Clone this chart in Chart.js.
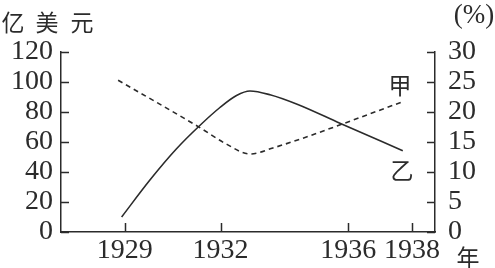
<!DOCTYPE html>
<html>
<head>
<meta charset="utf-8">
<script src="https://cdn.jsdelivr.net/npm/chart.js@4.4.1/dist/chart.umd.min.js"></script>
<style>
  html, body { margin: 0; padding: 0; background: #fff; }
  #wrap { width: 495px; height: 268px; }
</style>
</head>
<body>
<div id="wrap"><canvas id="chart"></canvas></div>
<script>
// 乙 (solid, 亿美元, left axis)
const yiYears = [1928.9, 1929.78, 1930.62, 1931.35, 1931.98, 1932.5, 1932.92, 1933.55, 1934.42, 1935.74, 1937.71];
const yiValues = [10, 34.5, 55.5, 71, 83, 91, 94, 91.5, 85, 72.5, 54.2];

// 甲 (dashed, %, right axis)
const jiaYears = [1928.79, 1931.35, 1932.2, 1932.92, 1933.64, 1937.71];
const jiaValues = [25.3, 17.4, 14.6, 13.0, 14.0, 21.7];

const yearTicks = [1929, 1932, 1936, 1938];
const leftTicks = [0, 20, 40, 60, 80, 100, 120];
const rightTicks = [0, 5, 10, 15, 20, 25, 30];

const ink = '#2b2b2b';
const serif = '"Liberation Serif", "DejaVu Serif", serif';
const cjk = '"Noto Sans CJK SC", sans-serif';

const extras = {
  id: 'extras',
  afterDraw(chart) {
    const { ctx, chartArea, scales } = chart;
    ctx.save();
    ctx.strokeStyle = ink;
    ctx.lineWidth = 1.5;
    ctx.beginPath();
    leftTicks.forEach(v => {
      const py = Math.round(scales.y.getPixelForValue(v)) + 0.5;
      ctx.moveTo(chartArea.left, py); ctx.lineTo(chartArea.left + 8, py);
    });
    rightTicks.forEach(v => {
      const py = Math.round(scales.y1.getPixelForValue(v)) + 0.5;
      ctx.moveTo(chartArea.right, py); ctx.lineTo(chartArea.right - 8, py);
    });
    yearTicks.forEach(v => {
      const px = Math.round(scales.x.getPixelForValue(v)) + 0.5;
      ctx.moveTo(px, chartArea.bottom); ctx.lineTo(px, chartArea.bottom - 9);
    });
    ctx.stroke();

    ctx.fillStyle = ink;
    ctx.textAlign = 'center';
    ctx.textBaseline = 'middle';
    ctx.font = '23px ' + cjk;
    [['亿', 13], ['美', 47], ['元', 82]].forEach(([c, x]) => ctx.fillText(c, x, 22));
    ctx.fillText('年', 468, 257);
    ctx.fillText('甲', 400, 85);
    ctx.fillText('乙', 402, 170);
    ctx.font = '27px ' + serif;
    ctx.fillText('(%)', 474, 16);
    ctx.restore();
  }
};

const fixSize = (w, h) => s => {
  if (w !== null) s.width = w;
  if (h !== null) s.height = h;
  s.paddingTop = 0; s.paddingBottom = 0; s.paddingLeft = 0; s.paddingRight = 0;
};

new Chart(document.getElementById('chart'), {
  type: 'line',
  data: {
    datasets: [
      {
        label: '乙',
        data: yiYears.map((x, i) => ({ x, y: yiValues[i] })),
        yAxisID: 'y',
        borderColor: ink,
        borderWidth: 1.6,
        pointRadius: 0,
        cubicInterpolationMode: 'monotone',
        fill: false
      },
      {
        label: '甲',
        data: jiaYears.map((x, i) => ({ x, y: jiaValues[i] })),
        yAxisID: 'y1',
        borderColor: ink,
        borderWidth: 1.6,
        borderDash: [5, 4],
        pointRadius: 0,
        cubicInterpolationMode: 'monotone',
        fill: false
      }
    ]
  },
  options: {
    responsive: true,
    maintainAspectRatio: false,
    animation: false,
    layout: { padding: { top: 52, left: 0, right: 0, bottom: 0 } },
    plugins: { legend: { display: false }, tooltip: { enabled: false } },
    scales: {
      x: {
        type: 'linear',
        min: 1927,
        max: 1938.72,
        afterBuildTicks: s => { s.ticks = yearTicks.map(v => ({ value: v })); },
        afterFit: fixSize(null, 36),
        ticks: {
          callback: v => String(v),
          font: { family: serif, size: 28 },
          color: ink,
          padding: 2,
          maxRotation: 0,
          autoSkip: false
        },
        grid: { display: false, drawTicks: false },
        border: { display: true, color: ink, width: 1.5 }
      },
      y: {
        position: 'left',
        min: 0,
        max: 120,
        afterBuildTicks: s => { s.ticks = leftTicks.map(v => ({ value: v })); },
        afterFit: fixSize(61, null),
        ticks: { font: { family: serif, size: 28 }, color: ink, padding: 8, autoSkip: false },
        grid: { display: false, drawTicks: false },
        border: { display: true, color: ink, width: 1.5 }
      },
      y1: {
        position: 'right',
        min: 0,
        max: 30,
        afterBuildTicks: s => { s.ticks = rightTicks.map(v => ({ value: v })); },
        afterFit: fixSize(60, null),
        ticks: { font: { family: serif, size: 28 }, color: ink, padding: 13, autoSkip: false },
        grid: { display: false, drawTicks: false },
        border: { display: true, color: ink, width: 1.5 }
      }
    }
  },
  plugins: [extras]
});
</script>
</body>
</html>
